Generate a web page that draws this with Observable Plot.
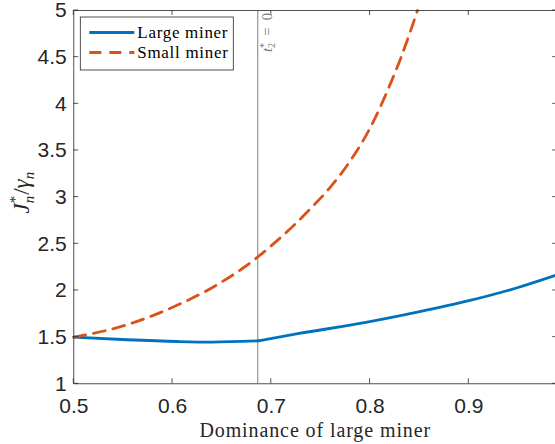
<!DOCTYPE html>
<html><head><meta charset="utf-8">
<script src="https://cdn.jsdelivr.net/npm/d3@7"></script>
<script src="https://cdn.jsdelivr.net/npm/@observablehq/plot@0.6"></script>
<style>html,body{margin:0;padding:0;background:#fff;overflow:hidden;width:555px;height:444px}</style>
</head><body><div id="chart"></div>
<script>
// ---- data ----
const xTicks = [0.5, 0.6, 0.7, 0.8, 0.9];
const yTicks = [1, 1.5, 2, 2.5, 3, 3.5, 4, 4.5, 5];
const xDomain = [0.5, 0.99];
const yDomain = [1, 5];
const tKink = 0.6863; // t2* = 0
const seriesNames = ["Large miner", "Small miner"];
const seriesColors = ["#0072BD", "#D95319"];
const largeX = [0.5, 0.554, 0.605, 0.64, 0.6863, 0.7296, 0.797, 0.8478, 0.898, 0.949, 0.99];
const largeY = [1.5, 1.472, 1.453, 1.447, 1.46, 1.542, 1.66, 1.767, 1.885, 2.029, 2.17];
const smallX = [0.5, 0.55, 0.6, 0.64, 0.67, 0.687, 0.7, 0.72, 0.74, 0.76, 0.78, 0.8, 0.82, 0.83, 0.84, 0.848];
const smallY = [1.5, 1.62, 1.82, 2.03, 2.23, 2.365, 2.48, 2.67, 2.88, 3.11, 3.39, 3.74, 4.2, 4.46, 4.75, 5.0];
const xLabel = "Dominance of large miner";

// ---- tables ----
const large = [];
largeX.forEach((x, i) => {
  if (x <= tKink) large.push({x, y: largeY[i], seg: 0});
  if (x >= tKink) large.push({x, y: largeY[i], seg: 1});
});
const small = smallX.map((x, i) => ({x, y: smallY[i]}));

const axisColor = "#262626";
const serif = "'Liberation Serif','Times New Roman',serif";
const lineW = 2.8;
const dash = "12,8";

function decorations(index, scales, values, dims) {
  const {x, y} = scales;
  const g = d3.create("svg:g").attr("text-anchor", "start");
  const L = dims.marginLeft, R = dims.width - dims.marginRight;
  const T = dims.marginTop, B = dims.height - dims.marginBottom;
  const tl = 5;
  const ticks = g.append("g").attr("stroke", axisColor).attr("stroke-width", 0.8);
  for (const t of xTicks) {
    ticks.append("line").attr("x1", x(t)).attr("x2", x(t)).attr("y1", B).attr("y2", B - tl);
    ticks.append("line").attr("x1", x(t)).attr("x2", x(t)).attr("y1", T).attr("y2", T + tl);
  }
  for (const t of yTicks) {
    ticks.append("line").attr("y1", y(t)).attr("y2", y(t)).attr("x1", L).attr("x2", L + tl);
    ticks.append("line").attr("y1", y(t)).attr("y2", y(t)).attr("x1", R).attr("x2", R - tl);
  }
  // annotation t2* = 0
  const ann = g.append("text")
    .attr("transform", `translate(${x(tKink) + 15},${T + 3}) rotate(-90)`)
    .attr("text-anchor", "end").attr("font-family", serif).attr("font-size", 14.5)
    .attr("fill", "#7a7a7a");
  ann.append("tspan").attr("font-style", "italic").text("t");
  ann.append("tspan").attr("font-size", 10).attr("dy", -5.5).text("*");
  ann.append("tspan").attr("font-size", 10).attr("dx", -5).attr("dy", 8.5).text("2");
  ann.append("tspan").attr("dy", -3).text("\u2002=\u20020");

  // legend
  const lg = g.append("g");
  const bx = L + 7, by = T + 7, bw = 153, bh = 53;
  lg.append("rect").attr("x", bx).attr("y", by).attr("width", bw).attr("height", bh)
    .attr("fill", "white").attr("stroke", axisColor).attr("stroke-width", 0.8);
  seriesNames.forEach((name, i) => {
    const ly = by + 15.5 + i * 20;
    lg.append("line").attr("x1", bx + 9).attr("x2", bx + 54).attr("y1", ly).attr("y2", ly)
      .attr("stroke", seriesColors[i]).attr("stroke-width", lineW)
      .attr("stroke-dasharray", i === 1 ? dash : null);
    lg.append("text").attr("x", bx + 57).attr("y", ly + 5.5).attr("text-anchor", "start")
      .attr("font-family", serif).attr("font-size", 17).attr("letter-spacing", 0.7)
      .attr("fill", "#000").text(name);
  });

  // x label
  g.append("text").attr("x", (L + R) / 2).attr("y", B + 53.4)
    .attr("text-anchor", "middle").attr("font-family", serif).attr("font-size", 20)
    .attr("letter-spacing", 0.9).attr("fill", "#262626").text(xLabel);

  // y label  J*_n / gamma_n
  const yl = g.append("text")
    .attr("transform", `translate(${L - 44},${y(3) - 4}) rotate(-90)`)
    .attr("text-anchor", "middle").attr("font-family", serif).attr("font-size", 23)
    .attr("fill", "#262626");
  yl.append("tspan").attr("font-style", "italic").text("J");
  yl.append("tspan").attr("font-size", 15).attr("dy", -9).text("*");
  yl.append("tspan").attr("font-size", 15).attr("font-style", "italic").attr("dx", -7.5).attr("dy", 14).text("n");
  yl.append("tspan").attr("dy", -5).attr("dx", 1).text("/");
  yl.append("tspan").attr("font-style", "italic").text("\u03b3");
  yl.append("tspan").attr("font-size", 15).attr("font-style", "italic").attr("dy", 5).text("n");
  return g.node();
}

const chart = Plot.plot({
  width: 558, height: 444,
  marginLeft: 73.3, marginRight: 0.8, marginTop: 10, marginBottom: 60.7,
  style: {fontFamily: "'Liberation Sans',Arial,sans-serif", fontSize: "21px", color: axisColor,
          background: "white", maxWidth: "none", overflow: "visible"},
  x: {domain: xDomain, ticks: xTicks, tickSize: 0, tickPadding: 14, label: null, tickFormat: d => String(d)},
  y: {domain: yDomain, ticks: yTicks, tickSize: 0, tickPadding: 7, label: null, tickFormat: d => String(d)},
  marks: [
    Plot.ruleX([tKink], {stroke: "#808080", strokeWidth: 1}),
    Plot.line(large, {x: "x", y: "y", z: "seg", stroke: seriesColors[0], strokeWidth: lineW, curve: "monotone-x"}),
    Plot.line(small, {x: "x", y: "y", stroke: seriesColors[1], strokeWidth: lineW, strokeDasharray: dash, curve: "monotone-x"}),
    Plot.frame({stroke: axisColor, strokeWidth: 0.8}),
    decorations
  ]
});
document.getElementById("chart").appendChild(chart);
</script>
</body></html>
